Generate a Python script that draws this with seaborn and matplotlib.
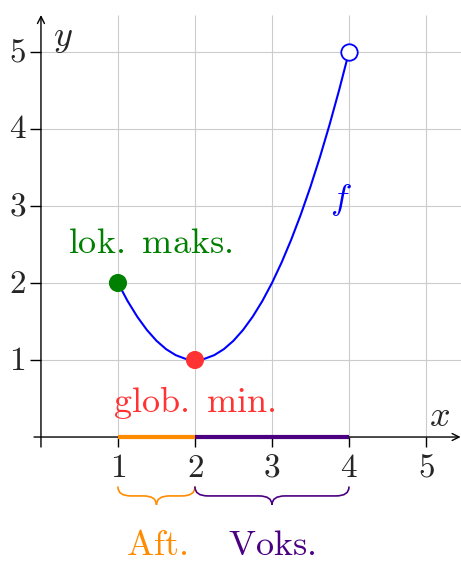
import numpy as np
import matplotlib
matplotlib.use("Agg")
import matplotlib.pyplot as plt
from matplotlib.path import Path
from matplotlib.patches import PathPatch
import seaborn as sns

# ---------------------------------------------------------------------
# data
# ---------------------------------------------------------------------
curve_x = [1.0, 1.125, 1.25, 1.375, 1.5, 1.625, 1.75, 1.875, 2.0,
           2.125, 2.25, 2.375, 2.5, 2.625, 2.75, 2.875, 3.0,
           3.125, 3.25, 3.375, 3.5, 3.625, 3.75, 3.875, 4.0]
curve_y = [2.0, 1.766, 1.563, 1.391, 1.25, 1.141, 1.063, 1.016, 1.0,
           1.016, 1.063, 1.141, 1.25, 1.391, 1.563, 1.766, 2.0,
           2.266, 2.563, 2.891, 3.25, 3.641, 4.063, 4.516, 5.0]

loc_max = (1, 2)
glob_min = (2, 1)
open_end = (4, 5)

decreasing = [1, 2]
increasing = [2, 4]

x_ticks = [1, 2, 3, 4, 5]
y_ticks = [1, 2, 3, 4, 5]

GREEN = "#008000"
RED = "#ff3333"
BLUE = "#0000ff"
ORANGE = "#ff8c00"
PURPLE = "#4b0082"
GRID = "#cccccc"

sns.set_theme(style="white")
plt.rcParams["mathtext.fontset"] = "cm"

fig = plt.figure(figsize=(4.61, 5.61), dpi=100)
ax = fig.add_axes([0, 0, 1, 1])
ax.set_xlim(-0.532, 5.455)
ax.set_ylim(-1.61, 5.675)
ax.axis("off")

# grid
ax.vlines(x_ticks, 0, 5.48, color=GRID, lw=0.8, zorder=0)
ax.hlines(y_ticks, 0, 5.46, color=GRID, lw=0.8, zorder=0)

# axes with arrows
arrow = dict(arrowstyle="->,head_length=0.5,head_width=0.25", lw=1.0,
             color="black", shrinkA=0, shrinkB=0, mutation_scale=10)
ax.annotate("", xy=(5.45, 0), xytext=(-0.09, 0), arrowprops=arrow, zorder=2)
ax.annotate("", xy=(0, 5.48), xytext=(0, -0.13), arrowprops=arrow, zorder=2)
ax.vlines(x_ticks, -0.13, 0, color="black", lw=1.0, zorder=2)
ax.hlines(y_ticks, -0.14, 0, color="black", lw=1.0, zorder=2)

for t in x_ticks:
    ax.text(t, -0.39, rf"$\mathrm{{{t}}}$", fontsize=24, ha="center", va="center")
for t in y_ticks:
    ax.text(-0.305, t, rf"$\mathrm{{{t}}}$", fontsize=24, ha="center", va="center")
ax.text(0.29, 5.18, r"$y$", fontsize=26, ha="center", va="center")
ax.text(5.18, 0.27, r"$x$", fontsize=26, ha="center", va="center")

# monotonic intervals on the x axis
ax.plot(decreasing, [0, 0], color=ORANGE, lw=3, solid_capstyle="butt", zorder=3)
ax.plot(increasing, [0, 0], color=PURPLE, lw=3, solid_capstyle="butt", zorder=3)


def brace(x0, x1, color, top=-0.65, depth=0.23, q=0.17):
    mid = (x0 + x1) / 2
    h = depth / 2
    verts = [(x0, top), (x0, top - h), (x0 + q, top - h),
             (mid - q, top - h),
             (mid, top - h), (mid, top - depth),
             (mid, top - h), (mid + q, top - h),
             (x1 - q, top - h),
             (x1, top - h), (x1, top)]
    codes = [Path.MOVETO, Path.CURVE3, Path.CURVE3, Path.LINETO,
             Path.CURVE3, Path.CURVE3, Path.CURVE3, Path.CURVE3,
             Path.LINETO, Path.CURVE3, Path.CURVE3]
    ax.add_patch(PathPatch(Path(verts, codes), fill=False, edgecolor=color,
                           lw=1.2, capstyle="round"))


brace(*decreasing, ORANGE)
brace(*increasing, PURPLE)
ax.text(1.5, -1.40, r"$\mathrm{Aft.}$", fontsize=26, color=ORANGE, ha="center", va="center")
ax.text(3.0, -1.40, r"$\mathrm{Voks.}$", fontsize=26, color=PURPLE, ha="center", va="center")

# function curve and special points
sns.lineplot(x=curve_x, y=curve_y, color=BLUE, lw=1.5, sort=False, ax=ax, zorder=4)
sns.scatterplot(x=[loc_max[0]], y=[loc_max[1]], color=GREEN, s=170,
                edgecolor="none", ax=ax, zorder=5)
sns.scatterplot(x=[glob_min[0]], y=[glob_min[1]], color=RED, s=170,
                edgecolor="none", ax=ax, zorder=5)
ax.scatter([open_end[0]], [open_end[1]], s=140, facecolor="white",
           edgecolor=BLUE, linewidth=1.3, zorder=5)

ax.text(1.42, 2.39, r"$\mathrm{lok.\ maks.}$", fontsize=26, color=GREEN,
        ha="center", va="baseline")
ax.text(1.99, 0.32, r"$\mathrm{glob.\ min.}$", fontsize=26, color=RED,
        ha="center", va="baseline")
ax.text(3.9, 3.08, r"$f$", fontsize=26, color=BLUE, ha="center", va="center")

fig.savefig("out.png", dpi=100)
